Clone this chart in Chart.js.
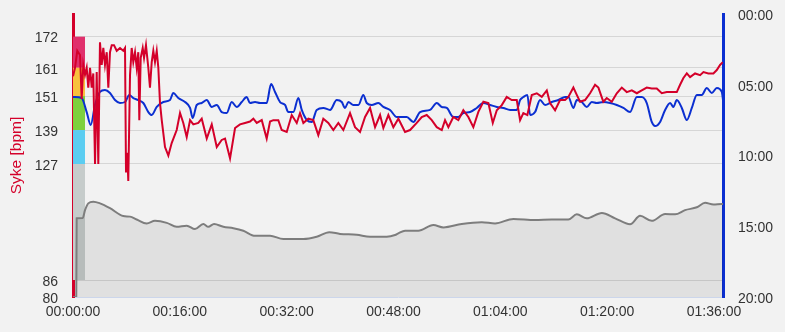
<!DOCTYPE html>
<html>
<head>
  <title>Syke og tempo</title>
  <script src="https://cdn.jsdelivr.net/npm/chart.js"></script>
  <style>
    html, body { margin: 0; padding: 0; background: #f2f2f2; }
    #wrap { width: 785px; height: 332px; }
  </style>
</head>
<body>
  <div id="wrap"><canvas id="chartSyke" width="785" height="332"></canvas></div>
  <script>
    // all times are in minutes from start
    const hrTime = [0, 0.30, 0.64, 1.05, 1.30, 1.54, 1.80, 2.05, 2.29, 2.55, 2.80, 3.04, 3.30, 3.55, 3.79, 4.04, 4.30, 4.54, 4.79, 5.05,
      5.29, 5.54, 5.80, 6.14, 6.55, 7.04, 7.53, 7.79, 7.94, 8.13, 8.28, 8.54, 8.79, 9.03, 9.29, 9.54, 9.78, 9.93, 10.14, 10.44,
      10.64, 10.93, 11.28, 11.53, 11.79, 12.03, 12.28, 12.54, 12.78, 13.03, 13.29, 13.78, 14.28, 14.78, 15.53, 16.03, 16.52, 17.03, 17.53, 18.02,
      18.77, 19.28, 20.03, 20.78, 21.53, 22.27, 22.77, 23.52, 24.27, 25.01, 25.76, 26.51, 27.01, 27.52, 28.27, 29.01, 29.51, 30.00, 30.75, 31.26,
      32.01, 32.76, 33.51, 34.00, 34.50, 35.25, 35.99, 36.74, 37.49, 38.24, 38.99, 39.74, 40.49, 41.49, 42.24, 42.99, 43.74, 44.49, 45.24, 45.99,
      46.48, 47.23, 47.98, 48.73, 49.73, 50.48, 51.48, 52.23, 52.98, 53.73, 54.48, 55.23, 55.72, 56.22, 56.96, 57.71, 58.46, 59.21, 59.96, 60.71,
      61.46, 62.21, 62.87, 63.47, 64.22, 64.96, 65.71, 66.46, 66.96, 67.45, 68.05, 68.71, 69.46, 70.21, 70.96, 71.45, 72.20, 72.95, 73.70, 74.19,
      74.94, 75.45, 75.94, 76.69, 77.44, 78.19, 78.69, 79.43, 79.94, 80.69, 81.44, 82.19, 82.94, 83.69, 84.44, 85.18, 85.93, 86.68, 87.43, 88.18,
      88.93, 89.68, 90.43, 90.92, 91.42, 91.93, 92.42, 93.17, 93.92, 94.42, 95.16, 95.91, 96.42, 96.91, 97.32];
    const hrValues = [158, 161, 167, 165.5, 150, 162, 158.5, 161, 154, 161, 154, 159, 127, 159.5, 127, 170, 162, 168, 162, 166.5,
      154, 166.5, 169, 169, 167, 168, 167, 168, 124, 131, 121, 158.5, 168, 163, 166.5, 161, 166.5, 142.5, 164.5, 168,
      164.5, 169, 161, 154, 163, 167, 163, 167, 161, 148.5, 142.5, 133, 130, 134.4, 139, 145, 141.5, 136.5, 142.5, 141,
      141.5, 143, 136, 141, 133, 135.5, 136, 129, 139.7, 141, 141.5, 142, 143, 141.5, 142.5, 136, 142, 142.5, 142.5, 139,
      138.3, 144.3, 141.5, 145, 141.5, 143, 142.5, 137.2, 143, 141.5, 139, 141.5, 139, 145, 140, 138.3, 143.6, 146.8, 140, 144.3,
      139.7, 144.3, 140, 143, 138.3, 139, 141.5, 143.6, 144.3, 142.5, 140, 139, 142.5, 140, 143.6, 142.5, 146, 143.6, 140, 145.4,
      149, 148.5, 141.5, 146, 147.8, 150.7, 149.6, 149.6, 142.5, 145, 144.3, 151.4, 152, 150.7, 153, 148.5, 146, 149.6, 149.6, 150.7,
      154, 151.4, 149, 149.6, 152, 155, 154, 149, 150.3, 149, 152, 154, 152.4, 153, 152, 153, 154, 153.7, 153.7, 152,
      152.4, 152.4, 152.4, 155, 157.4, 159, 157.7, 159, 158.4, 159.5, 159, 159, 160.2, 162, 163];

    // pace in min/km
    const paceTime = [0, 0.30, 1.30, 2.05, 2.65, 3.30, 4.04, 4.79, 5.54, 6.29, 7.04, 7.79, 8.43, 9.03, 9.78, 10.53, 11.28, 11.79, 12.54, 13.53,
      14.53, 15.02, 15.77, 16.78, 17.53, 17.93, 18.53, 19.28, 20.03, 20.78, 21.53, 22.27, 23.02, 23.77, 24.52, 25.27, 26.02, 26.51, 27.26, 28.01,
      29.01, 29.66, 30.26, 31.01, 31.76, 32.25, 33.00, 33.75, 34.26, 35.01, 35.76, 36.50, 37.49, 38.50, 39.50, 40.25, 40.74, 41.24, 41.99, 42.74,
      43.48, 43.99, 44.74, 45.73, 46.48, 47.48, 48.49, 49.99, 50.97, 51.98, 53.48, 54.48, 55.23, 55.98, 56.96, 57.71, 58.46, 59.47, 60.47, 61.46,
      62.46, 63.47, 64.46, 65.46, 66.46, 66.96, 67.45, 68.05, 68.46, 69.20, 69.95, 70.70, 71.70, 72.69, 73.70, 74.19, 74.94, 75.45, 76.20, 76.95,
      77.70, 78.44, 79.43, 80.44, 81.44, 82.43, 83.43, 84.44, 85.18, 85.93, 86.68, 87.18, 87.93, 88.68, 89.44, 89.92, 90.43, 91.18, 91.93, 92.68,
      93.43, 94.17, 94.92, 95.67, 96.42, 97.17, 97.35];
    const paceValues = [5.87, 5.87, 5.94, 6.93, 7.84, 6.43, 5.51, 5.37, 5.58, 6.08, 6.29, 6.22, 5.72, 5.94, 6.08, 6.29, 6.93, 7.14, 6.57, 6.22,
      6.08, 5.58, 5.94, 6.22, 6.64, 7.35, 6.43, 6.29, 6.08, 6.57, 6.43, 6.93, 7.0, 6.22, 6.57, 6.22, 5.87, 6.29, 6.22, 6.29,
      6.29, 4.95, 5.51, 6.22, 6.43, 6.93, 6.93, 5.94, 6.78, 7.49, 7.63, 6.78, 6.64, 6.78, 6.08, 6.22, 6.64, 6.22, 6.43, 6.43,
      5.72, 6.29, 6.43, 6.29, 6.57, 6.78, 7.28, 7.28, 7.63, 6.93, 6.78, 6.29, 6.57, 6.64, 7.28, 7.28, 7.0, 6.93, 6.64, 6.29,
      6.43, 6.57, 6.64, 6.78, 6.78, 6.08, 5.87, 5.72, 7.14, 6.93, 6.08, 6.43, 6.22, 6.08, 5.87, 5.87, 6.64, 6.08, 6.22, 6.57,
      6.22, 6.29, 6.22, 6.29, 6.43, 6.64, 6.93, 5.87, 5.87, 6.29, 7.63, 7.92, 7.63, 6.78, 6.29, 6.57, 6.08, 6.64, 7.49, 6.64,
      5.72, 5.72, 5.23, 5.58, 5.23, 5.51, 6.08];

    // altitude, hidden axis
    const altTime = [0, 0.49, 0.55, 1.45, 1.80, 2.29, 3.04, 4.04, 5.54, 7.53, 8.54, 9.54, 11.04, 12.28, 14.04, 15.53, 17.03, 18.27, 19.52, 20.27,
      21.12, 22.52, 24.02, 25.51, 27.26, 29.51, 31.50, 34.50, 36.50, 38.39, 39.99, 42.49, 44.49, 46.99, 48.23, 48.73, 49.73, 51.72, 53.97, 55.47,
      58.22, 61.22, 63.21, 65.96, 69.20, 71.70, 74.19, 75.45, 76.95, 79.20, 81.19, 83.43, 84.93, 86.68, 88.68, 90.18, 91.67, 93.43, 94.67, 95.91,
      97.17, 97.35];
    const altValues = [0, 0, 27.8, 27.9, 30.7, 33.1, 33.7, 33.1, 31.4, 28.6, 28.4, 27.4, 26.0, 26.9, 26.2, 24.8, 25.2, 24.0, 25.8, 24.8,
      25.8, 24.8, 24.3, 23.4, 21.6, 21.6, 20.5, 20.5, 21.3, 22.9, 22.3, 22.0, 21.3, 21.3, 21.9, 22.5, 23.4, 23.4, 25.4, 24.6,
      25.8, 26.4, 26.0, 27.6, 27.2, 27.4, 27.4, 29.2, 27.8, 29.7, 27.8, 25.7, 28.7, 26.9, 29.3, 29.2, 30.7, 31.7, 33.3, 32.7,
      32.9, 32.9];

    // heart rate zones
    const zoneFrom = [86, 127, 139, 151, 161];
    const zoneTo = [127, 139, 151, 161, 172];
    const zoneColors = ['#c6cccb', '#5bcdf1', '#7ed03e', '#f8c13c', '#e0306c'];
    const zoneEnd = 1.8;

    const hrTicks = [80, 86, 127, 139, 151, 161, 172];
    const totalMinutes = 97.35;

    const red = '#d4002a';
    const blue = '#0b2fd1';
    const font = { family: "'Liberation Sans', Arial, sans-serif", size: 14 };

    function pad(n) { return String(n).padStart(2, '0'); }
    function hms(min) {
      const s = Math.round(min * 60);
      return pad(Math.floor(s / 3600)) + ':' + pad(Math.floor(s / 60) % 60) + ':' + pad(s % 60);
    }
    function ms(min) {
      const s = Math.round(min * 60);
      return pad(Math.floor(s / 60)) + ':' + pad(s % 60);
    }
    // fixed axis sizes, no extra label padding at top/bottom
    function fixWidth(w) {
      return s => { s.width = w; s.paddingTop = 0; s.paddingBottom = 0; };
    }

    const datasets = [{
      label: 'Syke',
      data: hrTime.map((t, i) => ({ x: t, y: hrValues[i] })),
      yAxisID: 'y',
      borderColor: red,
      borderWidth: 2,
      pointRadius: 0,
      tension: 0,
      fill: false,
      order: 1
    }, {
      label: 'Tempo',
      data: paceTime.map((t, i) => ({ x: t, y: paceValues[i] })),
      yAxisID: 'yPace',
      borderColor: blue,
      borderWidth: 2,
      pointRadius: 0,
      cubicInterpolationMode: 'monotone',
      fill: false,
      order: 2
    }, {
      label: 'Hoyde',
      data: altTime.map((t, i) => ({ x: t, y: altValues[i] })),
      yAxisID: 'yAlt',
      borderColor: '#7d7d7d',
      backgroundColor: 'rgba(0,0,0,0.075)',
      borderWidth: 2,
      pointRadius: 0,
      cubicInterpolationMode: 'monotone',
      fill: 'start',
      order: 3
    }];

    zoneFrom.forEach((lo, i) => {
      datasets.push({
        label: 'Sone ' + (i + 1),
        data: [{ x: 0, y: zoneTo[i] }, { x: zoneEnd, y: zoneTo[i] }],
        yAxisID: 'y',
        borderColor: 'transparent',
        borderWidth: 0,
        backgroundColor: zoneColors[i],
        pointRadius: 0,
        fill: { value: lo },
        order: 5
      });
    });

    new Chart(document.getElementById('chartSyke'), {
      type: 'line',
      data: { datasets: datasets },
      options: {
        responsive: false,
        animation: false,
        layout: { padding: { top: 14, left: 0, right: 0, bottom: 0 } },
        plugins: { legend: { display: false }, tooltip: { enabled: false } },
        scales: {
          x: {
            type: 'linear',
            min: 0,
            max: totalMinutes,
            grid: { display: false, drawTicks: false },
            border: { color: '#ccd6eb', width: 1 },
            ticks: {
              stepSize: 16,
              includeBounds: false,
              autoSkip: false,
              maxRotation: 0,
              padding: 7,
              color: '#333333',
              font: font,
              callback: v => hms(v)
            },
            afterFit: s => { s.height = 35; }
          },
          y: {
            type: 'linear',
            position: 'left',
            min: 80,
            max: 180,
            afterBuildTicks: s => { s.ticks = hrTicks.map(v => ({ value: v })); },
            grid: {
              drawTicks: false,
              color: c => (c.tick && c.tick.value === 80) ? 'transparent' : '#d6d6d6'
            },
            border: { color: red, width: 3 },
            ticks: { padding: 15, labelOffset: 2, color: '#333333', font: font },
            title: {
              display: true,
              text: 'Syke [bpm]',
              color: red,
              font: { family: font.family, size: 15.5 },
              padding: { top: 7, bottom: 0 }
            },
            afterFit: fixWidth(73)
          },
          yPace: {
            type: 'linear',
            position: 'right',
            min: 0,
            max: 20,
            reverse: true,
            grid: { drawOnChartArea: false, drawTicks: false },
            border: { color: blue, width: 3 },
            ticks: {
              stepSize: 5,
              padding: 15,
              labelOffset: 2,
              color: '#333333',
              font: font,
              callback: v => ms(v)
            },
            afterFit: fixWidth(62)
          },
          yAlt: {
            type: 'linear',
            display: false,
            min: 0,
            max: 100
          }
        }
      }
    });
  </script>
</body>
</html>
